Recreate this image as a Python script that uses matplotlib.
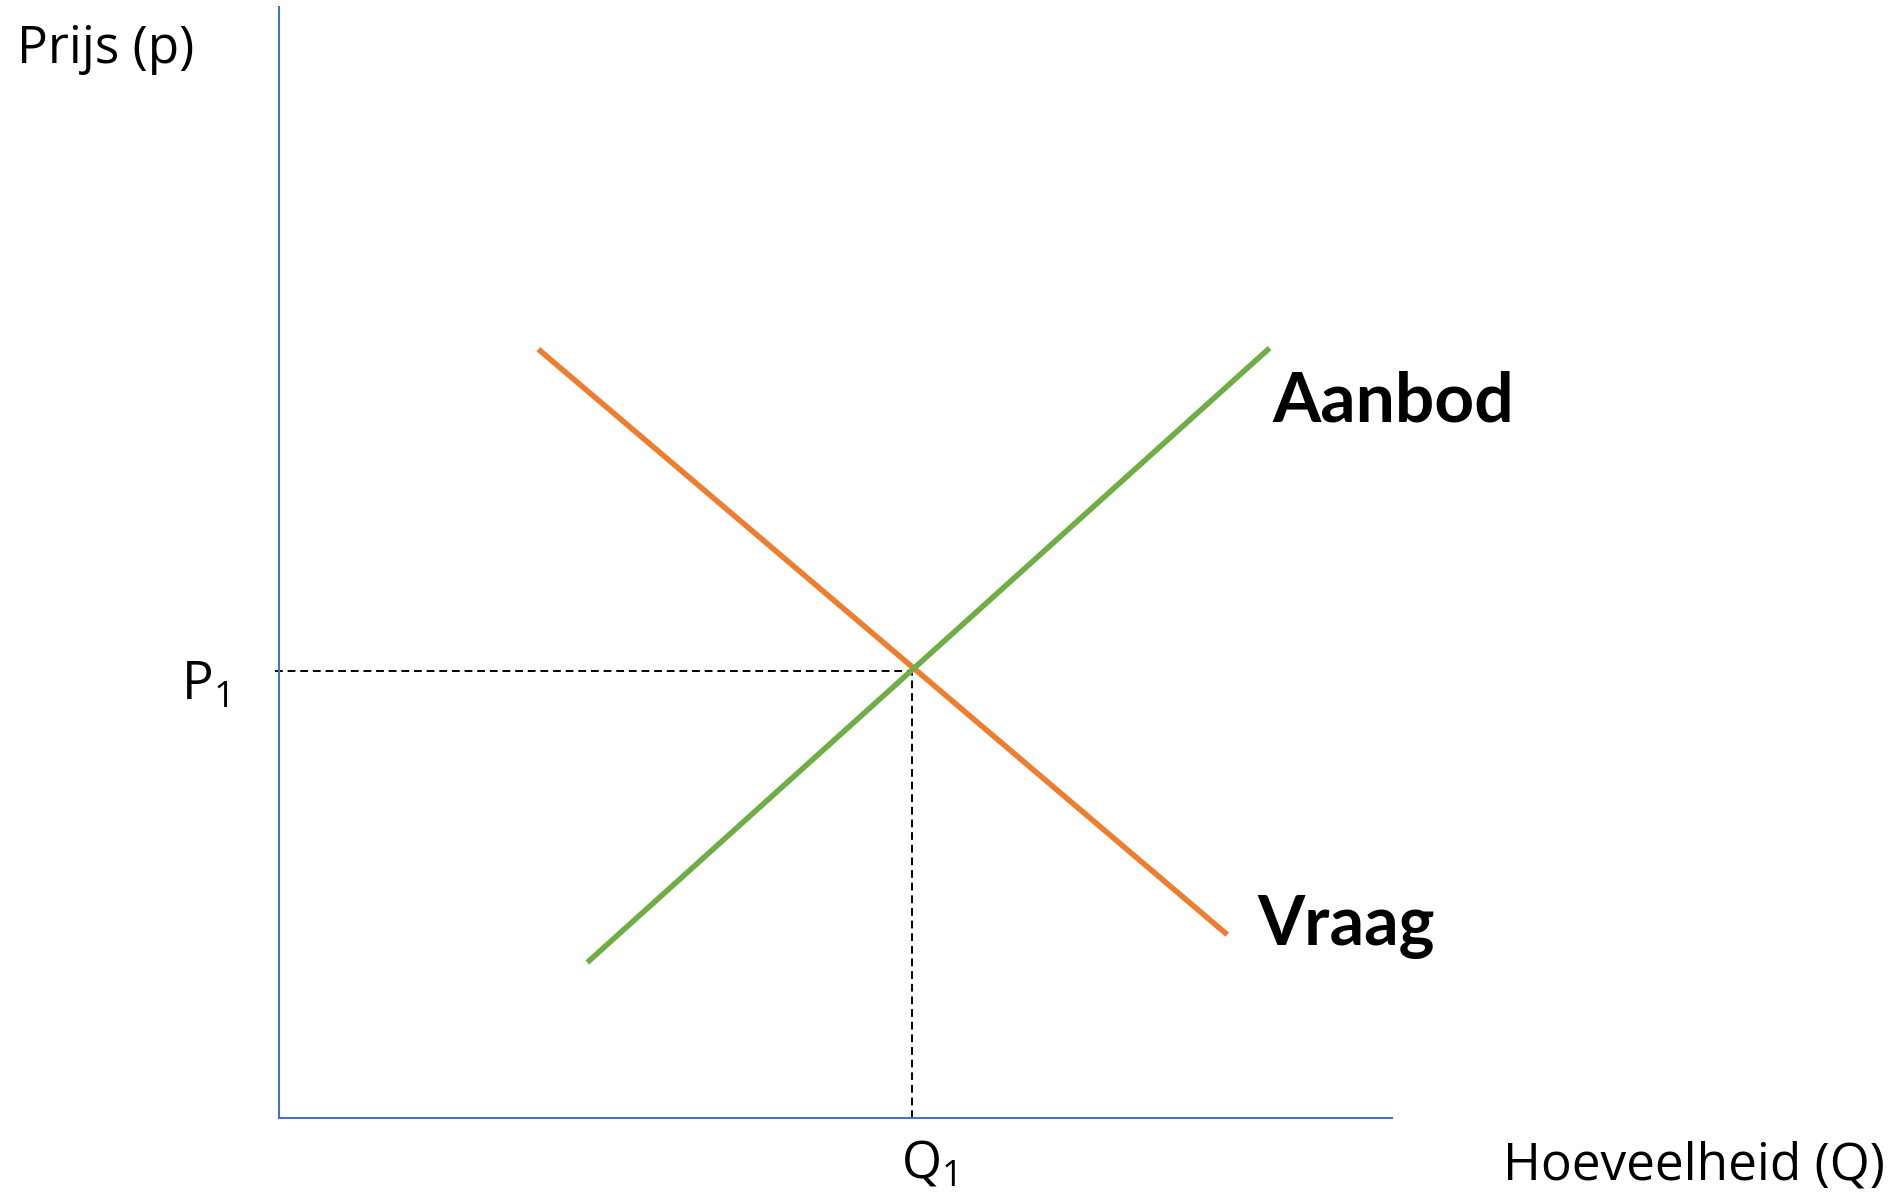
import matplotlib.pyplot as plt

# Vraag en aanbod (schaal 0-100 op beide assen)
q_vraag = [23.3, 85.2]
p_vraag = [69.2, 16.5]

q_aanbod = [27.7, 89.0]
p_aanbod = [14.0, 69.3]

q_even = 56.9
p_even = 40.2

W, H = 1901, 1192
fig = plt.figure(figsize=(W / 100, H / 100), dpi=100)
ax = fig.add_axes([279 / W, 1 - 1118 / H, (1392 - 279) / W, (1118 - 7) / H])
ax.set_xlim(0, 100)
ax.set_ylim(0, 100)

blauw = '#4472C4'
for kant in ['top', 'right']:
    ax.spines[kant].set_visible(False)
for kant in ['left', 'bottom']:
    ax.spines[kant].set_color(blauw)
    ax.spines[kant].set_linewidth(1.5)
ax.set_xticks([])
ax.set_yticks([])

ax.plot(q_vraag, p_vraag, color='#ED7D31', lw=4, solid_capstyle='butt')
ax.plot(q_aanbod, p_aanbod, color='#70AD47', lw=4, solid_capstyle='butt')

ax.plot([-0.4, q_even], [p_even, p_even], color='black', lw=1.4,
        dashes=(4, 2.5), clip_on=False, zorder=1)
ax.plot([q_even, q_even], [0, p_even], color='black', lw=1.4,
        dashes=(4, 2.5), zorder=1)

regular = 'Open Sans'
fig.text(17 / W, 1 - 63 / H, 'Prijs (p)', fontsize=37, family=regular, va='baseline')
fig.text(1503 / W, 1 - 1180 / H, 'Hoeveelheid (Q)', fontsize=37, family=regular, va='baseline')
fig.text(181 / W, 1 - 700 / H, r'$\mathregular{P_1}$', fontsize=38, family=regular, va='baseline')
fig.text(901 / W, 1 - 1177 / H, r'$\mathregular{Q_1}$', fontsize=37, family=regular, va='baseline')
fig.text(1272 / W, 1 - 422 / H, 'Aanbod', fontsize=50, family='Lato', weight='bold', va='baseline')
fig.text(1257 / W, 1 - 945 / H, 'Vraag', fontsize=49, family='Lato', weight='bold', va='baseline')

fig.savefig('out.png', dpi=100)
